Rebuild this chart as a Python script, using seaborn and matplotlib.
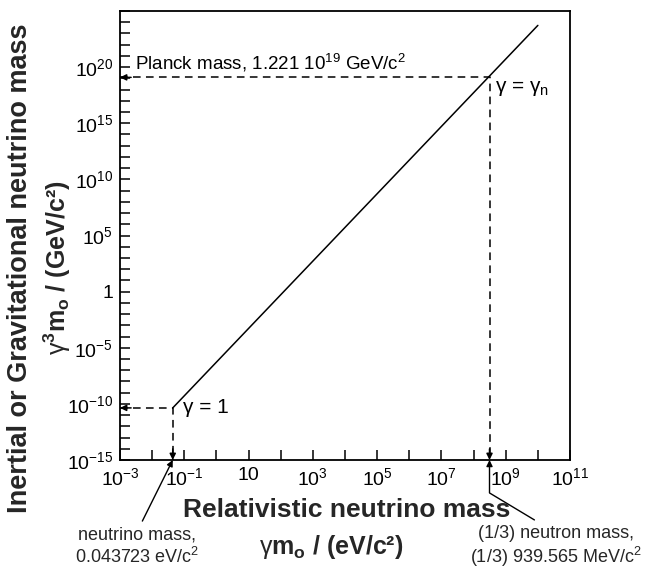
import matplotlib
matplotlib.use("Agg")
import matplotlib.pyplot as plt
import matplotlib.ticker as mticker
import seaborn as sns

# neutrino rest mass (eV/c^2) and the end of the plotted relation
x_line = [0.043723, 1e10]                # gamma*m0 in eV/c^2
y_line = [4.3723e-11, 5.23e23]           # gamma^3*m0 in GeV/c^2

# gamma = 1 point and gamma = gamma_n point
x_nu, y_nu = 0.043723, 4.3723e-11
x_n, y_n = 939.565e6 / 3, 1.221e19

x_exps = list(range(-3, 12))
x_labels = ["10$^{-3}$", "", "10$^{-1}$", "", "10", "", "10$^{3}$", "",
            "10$^{5}$", "", "10$^{7}$", "", "10$^{9}$", "", "10$^{11}$"]
y_exps = list(range(-15, 26))
y_named = {-15: "10$^{-15}$", -10: "10$^{-10}$", -5: "10$^{-5}$", 0: "1",
           5: "10$^{5}$", 10: "10$^{10}$", 15: "10$^{15}$", 20: "10$^{20}$"}
y_labels = [y_named.get(e, "") for e in y_exps]

sns.set_theme(style="ticks")
plt.rcParams["font.family"] = ["Liberation Sans", "DejaVu Sans"]
plt.rcParams["mathtext.fontset"] = "custom"
plt.rcParams["mathtext.rm"] = "Liberation Sans"
plt.rcParams["mathtext.bf"] = "Liberation Sans:bold"
plt.rcParams["mathtext.it"] = "Liberation Sans:italic"

fig = plt.figure(figsize=(6.46, 5.70), dpi=100)
ax = fig.add_axes([120 / 646, 110 / 570, 450 / 646, 449 / 570])

sns.lineplot(x=x_line, y=y_line, color="black", linewidth=1.1, ax=ax)
ax.set_xscale("log")
ax.set_yscale("log")
ax.set_xlim(1e-3, 1e11)
ax.set_ylim(1e-15, 1e25)

# dashed guide lines
dash = dict(color="black", linewidth=1.1, dashes=(5, 3.5))
ax.plot([1e-3, x_nu, x_nu], [y_nu, y_nu, 1e-15], **dash)
ax.plot([1e-3, x_n, x_n], [y_n, y_n, 1e-15], **dash)

head = dict(arrowstyle="-|>", color="black", lw=1.1, mutation_scale=9,
            shrinkA=0, shrinkB=0)
for xy, off in [((1e-3, y_nu), (8, 0)), ((x_nu, 1e-15), (0, 8)),
                ((1e-3, y_n), (8, 0)), ((x_n, 1e-15), (0, 8))]:
    ax.annotate("", xy=xy, xytext=off, textcoords="offset points",
                arrowprops=head)

ax.xaxis.set_major_locator(mticker.FixedLocator([10.0 ** e for e in x_exps]))
ax.xaxis.set_major_formatter(mticker.FixedFormatter(x_labels))
ax.yaxis.set_major_locator(mticker.FixedLocator([10.0 ** e for e in y_exps]))
ax.yaxis.set_major_formatter(mticker.FixedFormatter(y_labels))
ax.xaxis.set_minor_locator(mticker.NullLocator())
ax.yaxis.set_minor_locator(mticker.NullLocator())
ax.tick_params(direction="in", length=7, width=1.1, labelsize=14,
               colors="black", top=False, right=False, pad=5)
for s in ax.spines.values():
    s.set_visible(True)
    s.set_color("black")
    s.set_linewidth(1.3)

ax.text(2.9e-3, 2.3e20, "Planck mass, 1.221 10$^{19}$ GeV/c$^2$",
        fontsize=13.5, color="black", va="center")
ax.text(4.5e8, 1.3e18, "γ = γ$_\\mathrm{n}$", fontsize=15, color="black",
        va="center")
ax.text(0.09, 4.3e-11, "γ = 1", fontsize=15, color="black", va="center")

# annotations below the axis
ax.annotate("neutrino mass,\n0.043723 eV/c$^2$", xy=(x_nu, 1e-15),
            xytext=(137, 23), textcoords="figure pixels", ha="center",
            va="center", fontsize=13, linespacing=1.2,
            arrowprops=dict(arrowstyle="-|>", color="black", lw=1,
                            mutation_scale=9, shrinkB=0, relpos=(0.52, 1)))
ax.annotate("(1/3) neutron mass,\n(1/3) 939.565 MeV/c$^2$", xy=(x_n, 1e-15),
            xytext=(556, 23), textcoords="figure pixels", ha="center",
            va="center", fontsize=13, linespacing=1.2,
            arrowprops=dict(arrowstyle="-|>", color="black", lw=1,
                            mutation_scale=9, shrinkB=0, relpos=(0.42, 1),
                            connectionstyle="angle,angleA=149,angleB=90,rad=0"))

# axis titles
fig.text(347 / 646, 1 - 510 / 570, "Relativistic neutrino mass",
         fontsize=19, fontweight="bold", ha="center", va="center")
fig.text(331 / 646, 1 - 547 / 570, "$\\mathrm{γ}\\mathbf{m_o}$ / (eV/c²)",
         fontsize=18, fontweight="bold", ha="center", va="center")
fig.text(20 / 646, 1 - 268 / 570, "Inertial or Gravitational neutrino mass",
         fontsize=19.5, fontweight="bold", ha="center", va="center",
         rotation=90)
fig.text(57 / 646, 1 - 268 / 570,
         "$\\mathrm{γ}^\\mathbf{3}\\mathbf{m_o}$ / (GeV/c²)",
         fontsize=18, fontweight="bold", ha="center", va="center",
         rotation=90)

fig.savefig("out.png", dpi=100)
